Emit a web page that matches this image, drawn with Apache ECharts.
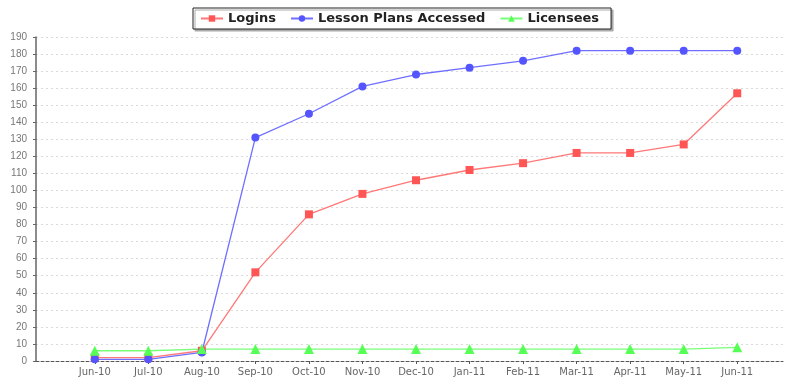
<!DOCTYPE html>
<html>
<head>
<meta charset="utf-8">
<script src="https://cdn.jsdelivr.net/npm/echarts@6/dist/echarts.min.js"></script>
<style>
  html, body { margin: 0; padding: 0; background: #fff; }
  #main { width: 785px; height: 379px; }
</style>
</head>
<body>
<div id="main"></div>
<script>
// months on the x axis
var months = ['Jun-10','Jul-10','Aug-10','Sep-10','Oct-10','Nov-10','Dec-10',
              'Jan-11','Feb-11','Mar-11','Apr-11','May-11','Jun-11'];

// values
var logins    = [2, 2, 6, 52, 86, 98, 106, 112, 116, 122, 122, 127, 157];
var lessons   = [1, 1, 5, 131, 145, 161, 168, 172, 176, 182, 182, 182, 182];
var licensees = [6, 6, 7, 7, 7, 7, 7, 7, 7, 7, 7, 7, 8];

var yMin = 0, yMax = 190, yStep = 10;

var chart = echarts.init(document.getElementById('main'));

var option = {
	animation: false,
	backgroundColor: '#fff',
	legend: {
		left: 193,
		top: 8,
		padding: [4, 12, 4, 7],
		itemGap: 14,
		itemWidth: 22,
		itemHeight: 8,
		borderColor: '#222',
		borderWidth: 1,
		backgroundColor: '#fff',
		shadowColor: '#aaa',
		shadowOffsetX: 2,
		shadowOffsetY: 2,
		shadowBlur: 0,
		textStyle: {
			fontFamily: 'DejaVu Sans',
			fontWeight: 'bold',
			fontSize: 13,
			color: '#222'
		},
		data: ['Logins', 'Lesson Plans Accessed', 'Licensees']
	},
	grid: [
		// frame: axis lines and grid lines across the whole plot
		{ left: 36, right: 2, top: 37, bottom: 18 },
		// data area, categories inset like the original
		{ left: 68, right: 21, top: 37, bottom: 18 }
	],
	xAxis: [
		{
			gridIndex: 0,
			type: 'value',
			min: 0,
			max: 1,
			axisLabel: { show: false },
			axisTick: { show: false },
			splitLine: { show: false },
			axisLine: { lineStyle: { color: '#555', type: [3, 2], width: 1 } }
		},
		{
			gridIndex: 1,
			type: 'category',
			boundaryGap: true,
			data: months,
			axisLine: { show: false },
			axisTick: { show: true, alignWithLabel: true, length: 3, lineStyle: { color: '#555' } },
			axisLabel: {
				margin: 6,
				fontFamily: 'DejaVu Sans',
				fontSize: 10,
				color: '#666'
			}
		}
	],
	yAxis: [
		{
			gridIndex: 0,
			type: 'value',
			min: yMin,
			max: yMax,
			interval: yStep,
			axisLine: { show: true, lineStyle: { color: '#666', width: 1.5 } },
			axisTick: { show: true, length: 3, lineStyle: { color: '#666' } },
			axisLabel: {
				margin: 9,
				fontFamily: 'Liberation Sans',
				fontSize: 10,
				color: '#777'
			},
			splitLine: { show: true, lineStyle: { color: '#dadada', type: [2, 3], width: 1 } }
		},
		{
			gridIndex: 1,
			type: 'value',
			min: yMin,
			max: yMax,
			interval: yStep,
			show: false,
			splitLine: { show: false }
		}
	],
	series: [
		{
			name: 'Logins',
			type: 'line',
			xAxisIndex: 1,
			yAxisIndex: 1,
			symbol: 'rect',
			symbolSize: 8,
			color: '#ff5555',
			lineStyle: { color: '#ff7777', width: 1.3 },
			data: logins
		},
		{
			name: 'Lesson Plans Accessed',
			type: 'line',
			xAxisIndex: 1,
			yAxisIndex: 1,
			symbol: 'circle',
			symbolSize: 8,
			color: '#5555ff',
			lineStyle: { color: '#6f6fff', width: 1.3 },
			data: lessons
		},
		{
			name: 'Licensees',
			type: 'line',
			xAxisIndex: 1,
			yAxisIndex: 1,
			symbol: 'triangle',
			symbolSize: 10,
			color: '#55ff55',
			lineStyle: { color: '#77ff77', width: 1.3 },
			data: licensees
		}
	]
};

chart.setOption(option);
</script>
</body>
</html>
